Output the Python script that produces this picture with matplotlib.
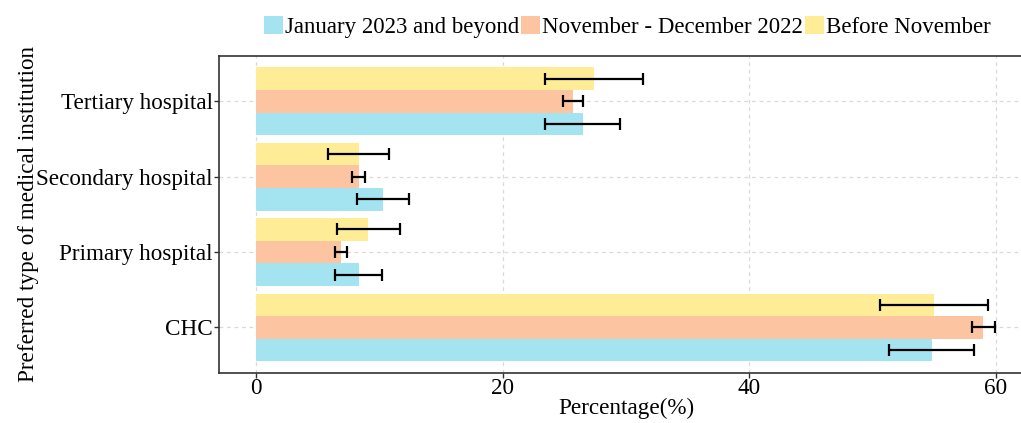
import matplotlib
matplotlib.use("Agg")
import matplotlib.pyplot as plt
import numpy as np
from matplotlib.patches import Patch

plt.rcParams['font.family'] = ['Liberation Serif', 'DejaVu Serif']

categories = ["CHC", "Primary hospital", "Secondary hospital", "Tertiary hospital"]
series_names = ["January 2023 and beyond", "November - December 2022", "Before November"]
colors = ["#A4E4F1", "#FDC4A1", "#FEEC97"]

# percentage values per series, ordered as categories
jan2023 = [54.8, 8.3, 10.3, 26.5]
novdec2022 = [59.0, 6.9, 8.3, 25.7]
before_nov = [55.0, 9.1, 8.3, 27.4]

# error half-widths
jan2023_err = [3.45, 1.9, 2.1, 3.05]
novdec2022_err = [0.95, 0.5, 0.5, 0.85]
before_nov_err = [4.4, 2.55, 2.45, 4.0]

values = [jan2023, novdec2022, before_nov]
errors = [jan2023_err, novdec2022_err, before_nov_err]

fig = plt.figure(figsize=(10.21, 4.23), dpi=100)
W, H = 1021, 423
left, right, top, bottom = 219.3, 1032.7, 56, 372.7
ax = fig.add_axes([left / W, 1 - bottom / H, (right - left) / W, (bottom - top) / H])

y = np.arange(1, len(categories) + 1)
bar_h = 0.3
offsets = [-0.3, 0.0, 0.3]
for vals, errs, col, off in zip(values, errors, colors, offsets):
    ax.barh(y + off, vals, height=bar_h, color=col, zorder=2)
    ax.errorbar(vals, y + off, xerr=errs, fmt='none', ecolor='black',
                elinewidth=1.6, capsize=4, capthick=1.6, zorder=3)

ax.set_xlim(-3, 63)
ax.set_ylim(0.4, 4.6)
ax.set_xticks([0, 20, 40, 60])
ax.set_yticks(y)
ax.set_yticklabels(categories)
ax.tick_params(axis='both', labelsize=16.7, length=3.6, width=1, color='#333333')
ax.tick_params(axis='y', pad=1)
ax.tick_params(axis='x', pad=0.5)
ax.grid(True, linestyle=(0, (3, 3)), color='#D9D9D9', linewidth=0.9, zorder=0)
ax.set_axisbelow(True)
for s in ['left', 'bottom', 'top', 'right']:
    ax.spines[s].set_color('#333333')
    ax.spines[s].set_linewidth(1.2)

ax.set_xlabel("Percentage(%)", fontsize=16.7)
ax.set_ylabel("Preferred type of medical institution", fontsize=16.7)
ax.xaxis.set_label_coords(0.5, -(398 - bottom) / (bottom - top))
ax.yaxis.set_label_coords((39 - left) / (right - left), 0.5)

handles = [Patch(facecolor=c, edgecolor='none') for c in colors]
fig.legend(handles, series_names, loc='center left', bbox_to_anchor=(264 / W, 1 - 27 / H),
           ncol=3, frameon=False, fontsize=16.5, handlelength=0.83, handleheight=0.8,
           handletextpad=0.08, columnspacing=0.1, borderpad=0, borderaxespad=0)

fig.savefig("out.png", dpi=100)
